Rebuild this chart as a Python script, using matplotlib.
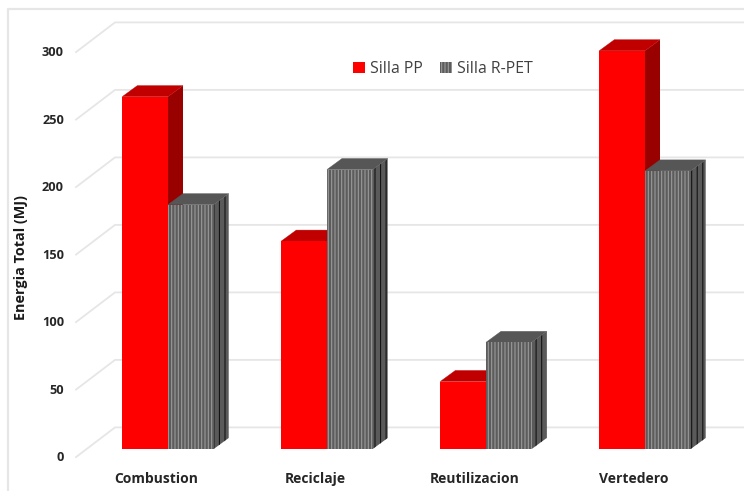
import matplotlib
matplotlib.use("Agg")
import matplotlib.pyplot as plt
import numpy as np

plt.rcParams['font.family'] = ['Open Sans', 'DejaVu Sans']
plt.rcParams['hatch.linewidth'] = 0.8

categories = ['Combustion', 'Reciclaje', 'Reutilizacion', 'Vertedero']
silla_pp = [261, 154, 50, 295]
silla_rpet = [181, 207, 79, 206]
y_ticks = [0, 50, 100, 150, 200, 250, 300]

W, H = 744, 491
PX_Y = 1.35      # pixels per MJ
PX_X = 159.0     # pixels per category
dx = 15 / PX_X   # 3d depth offset, data units
dy = 11 / PX_Y
width = 45.7 / PX_X

fig = plt.figure(figsize=(W / 100, H / 100), dpi=100)
ax = fig.add_axes([0, 0, 1, 1])
ax.set_xlim((0 - 168) / PX_X, (W - 168) / PX_X)
ax.set_ylim((449 - H) / PX_Y, 449 / PX_Y)
ax.axis('off')

grid_c = '#e6e6e6'
x_wall_f = (76 - 168) / PX_X
x_wall_b = (115 - 168) / PX_X
x_end = ax.get_xlim()[1]
for v in y_ticks:
    ax.plot([x_wall_f, x_wall_b, x_end], [v - 6, v + 16, v + 16], color=grid_c, lw=1.3, zorder=1)
    ax.text((64 - 168) / PX_X, v - 6.5, str(v), ha='right', va='center', fontsize=9.2, fontweight='bold', color='#262626')

# outer frame of the picture
x_frame = (8.5 - 168) / PX_X
y_frame = (449 - 8.5) / PX_Y
ax.plot([x_frame, x_frame, x_end], [ax.get_ylim()[0], y_frame, y_frame], color=grid_c, lw=1.6, zorder=1)


def bar3d(x, v, front, top, side, hatch=None, side_hatch=None, z=3):
    # side and top faces first, then the front face
    if side_hatch:
        plt.rcParams['hatch.color'] = '#141414'
    ax.fill([x + width, x + width + dx, x + width + dx, x + width],
            [0, dy, v + dy, v], facecolor=side, hatch=side_hatch,
            edgecolor='#141414' if side_hatch else side, lw=0, zorder=z)
    ax.fill([x, x + dx, x + width + dx, x + width],
            [v, v + dy, v + dy, v], facecolor=top, edgecolor=top, lw=0.3, zorder=z)
    return ax.bar(x, v, width, align='edge', color=front, hatch=hatch,
                  edgecolor='#9a9a9a' if hatch else front, lw=0, zorder=z + 0.5)


for i, cat in enumerate(categories):
    h1 = bar3d(i - width, silla_pp[i], '#ff0000', '#c00000', '#990000', z=3 + i * 2)
    h2 = bar3d(i, silla_rpet[i], '#5c5c5c', '#565656', '#5a5a5a', hatch='|||||', side_hatch='|||', z=4 + i * 2)
    ax.text(i - 11.5 / PX_X, -22, cat, ha='center', va='center', fontsize=10, fontweight='bold', color='#262626')

ax.text((21 - 168) / PX_X, (449 - 257) / PX_Y, 'Energia Total (MJ)', rotation=90, ha='center', va='center',
        fontsize=10.4, fontweight='bold', color='#1a1a1a')

ax.legend([h1, h2], ['Silla PP', 'Silla R-PET'], loc='center', frameon=False, ncol=2,
          bbox_to_anchor=(443 / W, 1 - 69 / H), fontsize=11.4, handlelength=0.75, handleheight=0.75,
          handletextpad=0.35, columnspacing=1.05, labelcolor='#404040')

fig.savefig('out.png', dpi=100)
